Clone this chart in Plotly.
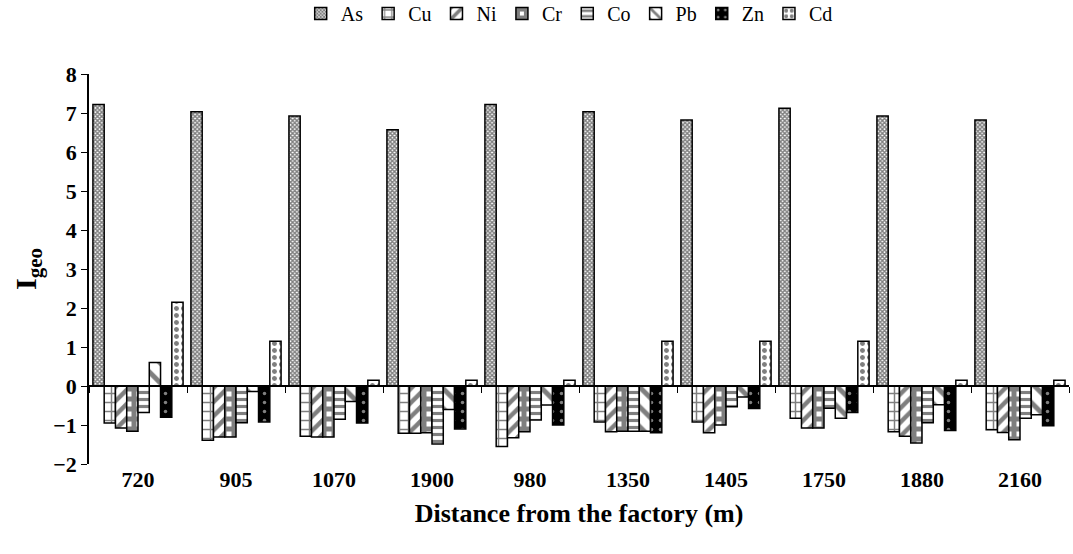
import plotly.graph_objects as go

categories = ["720", "905", "1070", "1900", "980", "1350", "1405", "1750", "1880", "2160"]
As = [7.22, 7.03, 6.92, 6.57, 7.22, 7.03, 6.82, 7.12, 6.92, 6.82]
Cu = [-0.95, -1.39, -1.29, -1.21, -1.55, -0.92, -0.92, -0.83, -1.17, -1.12]
Ni = [-1.08, -1.31, -1.31, -1.21, -1.33, -1.17, -1.20, -1.08, -1.29, -1.19]
Cr = [-1.16, -1.31, -1.31, -1.20, -1.17, -1.16, -1.00, -1.08, -1.46, -1.38]
Co = [-0.68, -0.94, -0.85, -1.49, -0.87, -1.16, -0.53, -0.57, -0.94, -0.83]
Pb = [0.60, -0.14, -0.40, -0.60, -0.49, -1.16, -0.28, -0.83, -0.48, -0.74]
Zn = [-0.80, -0.92, -0.95, -1.10, -1.00, -1.20, -0.58, -0.68, -1.14, -1.02]
Cd = [2.15, 1.15, 0.15, 0.15, 0.15, 1.15, 1.15, 1.15, 0.15, 0.15]
y_ticks = [-2, -1, 0, 1, 2, 3, 4, 5, 6, 7, 8]

series = [
    ("As", As, dict(shape="x", size=3, solidity=0.7, fgcolor="black", bgcolor="white")),
    ("Cu", Cu, dict(shape="+", size=9, solidity=0.3, fgcolor="black", bgcolor="white")),
    ("Ni", Ni, dict(shape="/", size=10, solidity=0.45, fgcolor="black", bgcolor="white")),
    ("Cr", Cr, dict(shape="+", size=10, solidity=0.75, fgcolor="black", bgcolor="white")),
    ("Co", Co, dict(shape="-", size=7, solidity=0.45, fgcolor="black", bgcolor="white")),
    ("Pb", Pb, dict(shape="\\", size=14, solidity=0.35, fgcolor="black", bgcolor="white")),
    ("Zn", Zn, dict(shape=".", size=9, solidity=0.12, fgcolor="white", bgcolor="black")),
    ("Cd", Cd, dict(shape=".", size=7, solidity=0.4, fgcolor="black", bgcolor="white")),
]

fig = go.Figure()
for name, vals, pat in series:
    fig.add_trace(go.Bar(
        name=name, x=categories, y=vals,
        marker=dict(color="white", line=dict(color="black", width=1.5), pattern=pat),
    ))

# invisible trace to give the zero-line category axis its categories
fig.add_trace(go.Scatter(x=categories, y=[0] * len(categories), xaxis="x2",
                         mode="markers", marker=dict(opacity=0), showlegend=False,
                         hoverinfo="skip"))

font = "Liberation Serif, Times New Roman, serif"
fig.update_layout(
    width=1073, height=554,
    margin=dict(l=89, r=4, t=74, b=90, autoexpand=False),
    paper_bgcolor="white", plot_bgcolor="white",
    barmode="group", bargap=0.08, bargroupgap=0,
    font=dict(family=font, color="black"),
    legend=dict(orientation="h", x=0.49, xanchor="center", y=1.155,
                yanchor="middle", font=dict(size=20, family=font),
                itemwidth=30, tracegroupgap=0),
    xaxis=dict(type="category", categoryorder="array", categoryarray=categories,
               range=[-0.5, 9.5], showline=False, ticks="", showgrid=False,
               tickfont=dict(size=22, family=font, weight="bold"),
               title=dict(text="<b>Distance from the factory (m)</b>",
                          font=dict(size=26, family=font), standoff=12)),
    xaxis2=dict(type="category", categoryorder="array", categoryarray=categories,
                range=[-0.5, 9.5], overlaying="x", anchor="free", position=0.2,
                side="bottom", showline=True, linecolor="black", linewidth=1.5,
                ticks="outside", tickson="boundaries", ticklen=6, tickcolor="black",
                tickwidth=1, showticklabels=False, showgrid=False),
    yaxis=dict(range=[-2, 8], tickvals=y_ticks, showgrid=False, zeroline=False,
               showline=True, linecolor="black", linewidth=1.5, ticks="outside",
               ticklen=6, tickcolor="black",
               tickfont=dict(size=22, family=font, weight="bold"),
               title=dict(text="<b>I<sub>geo</sub></b>", font=dict(size=30, family=font),
                          standoff=8)),
)

fig.write_html("out.html")
